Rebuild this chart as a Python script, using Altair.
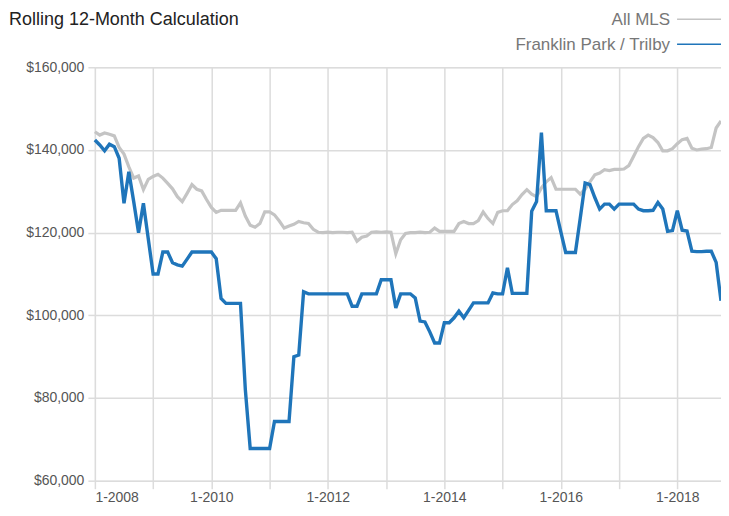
import altair as alt
import pandas as pd

# Month index 0 = 1-2008 ... 129 = 10-2018
series_names = ["All MLS", "Franklin Park / Trilby"]

all_mls = [
    144.4, 143.6, 144.1, 143.8, 143.4, 140.6, 139.0, 135.9, 133.2, 133.7, 130.4, 132.9,
    133.6, 134.1, 133.2, 131.9, 130.6, 128.7, 127.5, 129.5, 131.6, 130.5, 130.1, 128.0,
    126.1, 124.9, 125.4, 125.4, 125.4, 125.4, 127.2, 124.0, 121.8, 121.3, 122.2, 125.0,
    125.0, 124.3, 122.8, 121.1, 121.6, 122.0, 122.7, 122.4, 122.2, 120.8, 120.1, 120.0,
    120.1, 120.0, 120.1, 120.1, 120.0, 120.1, 117.9, 118.9, 119.2, 120.1, 120.2, 120.1,
    120.2, 120.1, 114.9, 118.3, 119.8, 120.0, 120.0, 120.1, 120.0, 120.1, 121.1, 120.3,
    120.3, 120.3, 120.3, 122.2, 122.7, 122.2, 122.2, 122.9, 125.0, 123.4, 122.2, 124.9,
    125.3, 125.3, 126.8, 127.7, 129.2, 130.4, 129.3, 128.7, 130.8, 132.3, 133.3, 130.5,
    130.5, 130.5, 130.5, 130.5, 129.3, 130.5, 132.3, 134.0, 134.4, 135.2, 135.0, 135.3,
    135.3, 135.4, 136.2, 138.5, 140.8, 142.8, 143.6, 143.0, 141.8, 139.8, 139.8, 140.3,
    141.5, 142.5, 142.8, 140.4, 140.0, 140.2, 140.3, 140.6, 145.3, 147.0,
]

franklin = [
    142.4, 141.2, 139.8, 141.4, 140.8, 138.0, 127.1, 134.7, 127.5, 120.0, 127.1, 118.5,
    110.0, 110.0, 115.3, 115.3, 112.7, 112.2, 111.9, 113.6, 115.3, 115.3, 115.3, 115.3,
    115.3, 113.7, 104.1, 102.9, 102.9, 102.9, 102.9, 82.0, 67.8, 67.8, 67.8, 67.8,
    67.8, 74.3, 74.3, 74.3, 74.3, 90.0, 90.4, 105.7, 105.2, 105.2, 105.2, 105.2,
    105.2, 105.2, 105.2, 105.2, 105.2, 102.2, 102.2, 105.2, 105.2, 105.2, 105.2, 108.6,
    108.6, 108.6, 101.8, 105.2, 105.2, 105.2, 104.2, 98.6, 98.4, 96.0, 93.3, 93.3,
    98.2, 98.2, 99.4, 101.0, 99.4, 101.2, 103.0, 103.0, 103.0, 103.0, 105.4, 105.2,
    105.2, 111.5, 105.3, 105.3, 105.3, 105.3, 125.2, 127.5, 144.2, 125.3, 125.3, 125.3,
    120.2, 115.2, 115.2, 115.2, 123.5, 132.0, 131.6, 128.5, 125.7, 126.9, 126.9, 125.7,
    126.9, 126.9, 126.9, 126.9, 125.7, 125.3, 125.3, 125.4, 127.3, 125.7, 120.3, 120.5,
    125.3, 120.6, 120.4, 115.5, 115.4, 115.4, 115.5, 115.5, 112.8, 103.5,
]

y_ticks = [60000, 80000, 100000, 120000, 140000, 160000]
year_ticks = list(range(0, 130, 12))

title_text = "Rolling 12-Month Calculation"
FONT = "Liberation Sans Narrow, Arial Narrow, Liberation Sans, sans-serif"

months = list(range(len(all_mls)))
df_mls = pd.DataFrame({"m": months, "v": [v * 1000 for v in all_mls]})
df_fp = pd.DataFrame({"m": months, "v": [v * 1000 for v in franklin]})

W, H = 627, 414

x_enc = alt.X(
    "m:Q",
    scale=alt.Scale(domain=[0, 129], nice=False, zero=False),
    axis=alt.Axis(
        values=year_ticks,
        labelExpr="datum.value % 24 == 0 ? '1-' + (2008 + datum.value / 12) : ''",
        title=None,
        grid=True,
        gridColor="#dcdcdc",
        gridWidth=1.5,
        domain=False,
        ticks=True,
        tickColor="#dcdcdc",
        tickWidth=1.5,
        tickSize=8,
        labelPadding=2,
        labelFont=FONT,
        labelFontSize=14,
        labelColor="#555555",
        labelOverlap=False,
    ),
)
y_enc = alt.Y(
    "v:Q",
    scale=alt.Scale(domain=[60000, 160000], nice=False, zero=False),
    axis=alt.Axis(
        values=y_ticks,
        format="$,.0f",
        title=None,
        grid=True,
        gridColor="#dcdcdc",
        gridWidth=1.5,
        domain=False,
        ticks=True,
        tickColor="#dcdcdc",
        tickWidth=1.5,
        tickSize=7,
        labelPadding=4,
        labelFont=FONT,
        labelFontSize=14,
        labelColor="#555555",
    ),
)

line_mls = alt.Chart(df_mls).mark_line(color="#c4c4c4", strokeWidth=3.2).encode(x=x_enc, y=y_enc)
line_fp = alt.Chart(df_fp).mark_line(color="#1f75ba", strokeWidth=3.4).encode(x="m:Q", y="v:Q")

one = pd.DataFrame({"k": [0]})
title = alt.Chart(pd.DataFrame({"t": [title_text]})).mark_text(
    align="left", baseline="alphabetic", font=FONT, fontSize=18, color="#222222"
).encode(text="t:N", x=alt.value(-86), y=alt.value(-42))

leg_text = alt.Chart(pd.DataFrame({"t": series_names, "yy": [-42, -17]})).mark_text(
    align="right", baseline="alphabetic", font=FONT, fontSize=17, color="#777777"
).encode(text="t:N", x=alt.value(576), y=alt.Y("yy:Q", scale=None, axis=None))

leg_mls = alt.Chart(one).mark_rule(color="#c4c4c4", strokeWidth=1.5).encode(
    x=alt.value(583), x2=alt.value(628), y=alt.value(-48)
)
leg_fp = alt.Chart(one).mark_rule(color="#1f75ba", strokeWidth=1.5).encode(
    x=alt.value(583), x2=alt.value(628), y=alt.value(-23)
)

chart = alt.layer(line_mls, line_fp, title, leg_text, leg_mls, leg_fp).properties(
    width=W,
    height=H,
    autosize=alt.AutoSizeParams(type="none"),
    padding={"left": 87, "top": 59, "right": 0, "bottom": 30},
).configure_view(stroke=None).configure(background="white")

chart.save("out.html", embed_options={"renderer": "svg", "actions": False})
